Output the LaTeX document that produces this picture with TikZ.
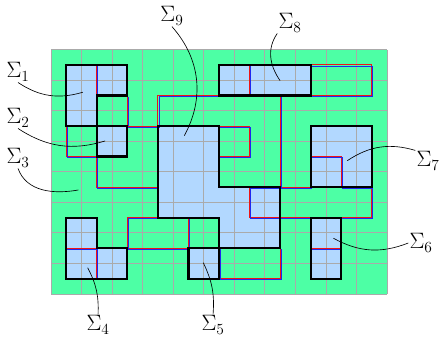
\documentclass[tikz,border=0pt]{standalone}
\usepackage{amsmath}
\usepackage{tikz}
\usetikzlibrary{positioning}
\definecolor{fieldgreen}{RGB}{77,255,165}
\definecolor{cellblue}{RGB}{178,216,255}
\definecolor{gridgray}{RGB}{170,170,170}
\definecolor{cutred}{RGB}{240,20,20}
\definecolor{cutblue}{RGB}{30,40,240}
\tikzset{
  region/.style={fill=cellblue, draw=none},
  outline/.style={draw=black, line width=2pt, line join=miter},
  gridline/.style={draw=gridgray, line width=0.8pt},
  redcut/.style={draw=cutred, line width=0.8pt},
  bluecut/.style={draw=cutblue, line width=0.8pt, xshift=1pt, yshift=-1pt},
  leader/.style={draw=black, line width=0.6pt},
  siglabel/.style={font=\huge, inner sep=1pt}
}
\newcommand{\cutline}[1]{\draw[redcut] #1; \draw[bluecut] #1;}

\begin{document}
\begin{tikzpicture}[x=0.5cm, y=0.5cm]
  \useasboundingbox (-3.34,-2.75) rectangle (25.6,19.25);

  % Field
  \fill[fieldgreen] (0,0) rectangle (22,16);

  % Regions
  \fill[region] (1,15) -- (5,15) -- (5,13) -- (3,13) -- (3,11) -- (1,11) -- cycle;
  \fill[region] (3,9) rectangle (5,11);
  \fill[region] (1,5) -- (3,5) -- (3,3) -- (5,3) -- (5,1) -- (1,1) -- cycle;
  \fill[region] (9,1) rectangle (11,3);
  \fill[region] (17,1) rectangle (19,5);
  \fill[region] (17,7) rectangle (21,11);
  \fill[region] (11,13) rectangle (17,15);
  \fill[region] (7,11) -- (11,11) -- (11,7) -- (15,7) -- (15,3) -- (11,3) -- (11,5) -- (7,5) -- cycle;

  % Grid
  \foreach \gx in {0,2,...,22} \draw[gridline] (\gx,0) -- (\gx,16);
  \foreach \gy in {0,2,...,16} \draw[gridline] (0,\gy) -- (22,\gy);

  % Red and blue cuts
  \cutline{(3,13) -- (3,15)}
  \cutline{(5,11) -- (5,13)}
  \cutline{(1,11) -- (1,9) -- (3,9)}
  \cutline{(3,9) -- (3,7) -- (7,7)}
  \cutline{(5,11) -- (7,11) -- (7,13) -- (11,13)}
  \cutline{(13,13) -- (13,15)}
  \cutline{(17,13) rectangle (21,15)}
  \cutline{(15,13) -- (15,7) -- (17,7)}
  \cutline{(11,11) -- (13,11) -- (13,9) -- (11,9)}
  \cutline{(17,9) -- (19,9) -- (19,7)}
  \cutline{(17,7) -- (17,11)}
  \cutline{(13,7) -- (13,5) -- (21,5) -- (21,7) -- (19,7)}
  \cutline{(13,7) -- (15,7)}
  \cutline{(11,3) -- (11,1) -- (15,1) -- (15,3)}
  \cutline{(5,3) rectangle (9,5)}
  \cutline{(1,3) -- (3,3) -- (3,1)}
  \cutline{(17,3) -- (19,3)}

  % Region outlines
  \draw[outline] (1,15) -- (5,15) -- (5,13) -- (3,13) -- (3,11) -- (1,11) -- cycle;
  \draw[outline] (3,9) rectangle (5,11);
  \draw[outline] (1,5) -- (3,5) -- (3,3) -- (5,3) -- (5,1) -- (1,1) -- cycle;
  \draw[outline] (9,1) rectangle (11,3);
  \draw[outline] (17,1) rectangle (19,5);
  \draw[outline] (17,7) rectangle (21,11);
  \draw[outline] (11,13) rectangle (17,15);
  \draw[outline] (7,11) -- (11,11) -- (11,7) -- (15,7) -- (15,3) -- (11,3) -- (11,5) -- (7,5) -- cycle;

  % Leader targets
  \coordinate (p1) at (2.08,13.21);
  \coordinate (p2) at (3.54,10.02);
  \coordinate (p3) at (1.79,6.81);
  \coordinate (p4) at (2.40,1.72);
  \coordinate (p5) at (9.97,2.05);
  \coordinate (p6) at (18.49,3.65);
  \coordinate (p7) at (19.40,8.73);
  \coordinate (p8) at (15.00,13.97);
  \coordinate (p9) at (8.73,10.37);

  % Labels
  \node[siglabel] (sig1) at (-2.16,14.54) {$\Sigma_1$};
  \node[siglabel] (sig2) at (-2.16,11.53) {$\Sigma_2$};
  \node[siglabel] (sig3) at (-2.16,8.91) {$\Sigma_3$};
  \node[siglabel] (sig4) at (3.08,-2.03) {$\Sigma_4$};
  \node[siglabel] (sig5) at (10.61,-2.03) {$\Sigma_5$};
  \node[siglabel] (sig6) at (24.23,3.34) {$\Sigma_6$};
  \node[siglabel] (sig7) at (24.69,8.71) {$\Sigma_7$};
  \node[siglabel] (sig8) at (15.65,17.75) {$\Sigma_8$};
  \node[siglabel] (sig9) at (7.92,18.20) {$\Sigma_9$};

  % Leaders
  \draw[leader] (sig1.south) to[bend right=25] (p1);
  \draw[leader] (sig2.south) to[bend right=25] (p2);
  \draw[leader] (sig3.south) to[out=-70, in=190] (p3);
  \draw[leader] (sig4.north) to[bend right=15] (p4);
  \draw[leader] (sig5.north) to[bend right=15] (p5);
  \draw[leader] (sig6.west) to[bend left=25] (p6);
  \draw[leader] (sig7.north west) to[bend right=25] (p7);
  \draw[leader] (sig8.south west) to[out=235, in=125] (p8);
  \draw[leader] (sig9.south) to[bend left=35] (p9);
\end{tikzpicture}
\end{document}
